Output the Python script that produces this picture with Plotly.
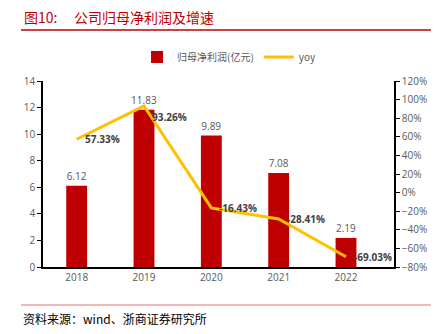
import plotly.graph_objects as go

years = ["2018", "2019", "2020", "2021", "2022"]
profit = [6.12, 11.83, 9.89, 7.08, 2.19]
yoy = [0.5733, 0.9326, -0.1643, -0.2841, -0.6903]
yoy_labels = ["57.33%", "93.26%", "-16.43%", "-28.41%", "-69.03%"]
profit_labels = ["6.12", "11.83", "9.89", "7.08", "2.19"]
label_yshift = [0, -11, 0, 0, 0]

L, R, T, B = 43, 50, 81, 67
W, H = 444, 334
pw, ph = W - L - R, H - T - B

def px(x):
    return (x - L) / pw

def py(y):
    return (H - B - y) / ph

fig = go.Figure()
fig.add_trace(go.Bar(
    x=years, y=profit, name="归母净利润(亿元)",
    marker=dict(color="#c00000", line=dict(width=0)),
    text=profit_labels, textposition="outside", constraintext="none",
    textfont=dict(color="#595959", size=10, family="Open Sans"),
    cliponaxis=False,
))
fig.add_trace(go.Scatter(
    x=years, y=yoy, name="yoy", yaxis="y2", mode="lines",
    line=dict(color="#ffc000", width=3),
    cliponaxis=False,
))

annotations = [
    dict(text="图10:", x=px(22), y=py(17), xref="paper", yref="paper",
         xanchor="left", yanchor="middle", showarrow=False,
         font=dict(size=14, color="#c00000", family="Noto Sans CJK SC")),
    dict(text="公司归母净利润及增速", x=px(72), y=py(17), xref="paper", yref="paper",
         xanchor="left", yanchor="middle", showarrow=False,
         font=dict(size=14, color="#c00000", family="Noto Sans CJK SC")),
    dict(text="资料来源：wind、浙商证券研究所", x=px(21), y=py(318), xref="paper", yref="paper",
         xanchor="left", yanchor="middle", showarrow=False,
         font=dict(size=12, color="#000000", family="Noto Sans CJK SC")),
]
for i, (v, t, ys) in enumerate(zip(yoy, yoy_labels, label_yshift)):
    annotations.append(dict(
        text="<b>%s</b>" % t, x=i, y=v, xref="x", yref="y2",
        xanchor="left", yanchor="middle", xshift=6, yshift=ys, showarrow=False,
        font=dict(size=10, color="#404040", family="Open Sans"),
    ))

fig.update_layout(
    width=W, height=H,
    margin=dict(l=L, r=R, t=T, b=B),
    paper_bgcolor="white", plot_bgcolor="white",
    bargap=0.69,
    showlegend=True,
    legend=dict(orientation="h", x=0.53, xanchor="center", y=py(57), yanchor="middle",
                font=dict(size=10, color="#595959", family="Noto Sans CJK SC"),
                itemwidth=30, bgcolor="rgba(0,0,0,0)"),
    xaxis=dict(type="category", showline=True, linecolor="black", linewidth=1.5, ticks="",
               tickfont=dict(size=10, color="#595959", family="Open Sans"),
               showgrid=False, zeroline=False),
    yaxis=dict(range=[0, 14], dtick=2, showline=True, linecolor="black", linewidth=1.5,
               ticks="outside", ticklen=4, tickcolor="black",
               tickfont=dict(size=10, color="#595959", family="Open Sans"),
               showgrid=False, zeroline=False),
    yaxis2=dict(range=[-0.8, 1.2], dtick=0.2, tickformat=".0%", overlaying="y", side="right",
                showline=True, linecolor="black", linewidth=1.5,
                ticks="outside", ticklen=4, tickcolor="black",
                tickfont=dict(size=10, color="#595959", family="Open Sans"),
                showgrid=False, zeroline=False),
    annotations=annotations,
    shapes=[
        dict(type="line", xref="paper", yref="paper", x0=px(21), x1=px(431), y0=py(30), y1=py(30),
             line=dict(color="#c00000", width=1.5)),
        dict(type="line", xref="paper", yref="paper", x0=px(21), x1=px(431), y0=py(305), y1=py(305),
             line=dict(color="#e8a0a0", width=1.5)),
    ],
)

fig.write_html("out.html")
